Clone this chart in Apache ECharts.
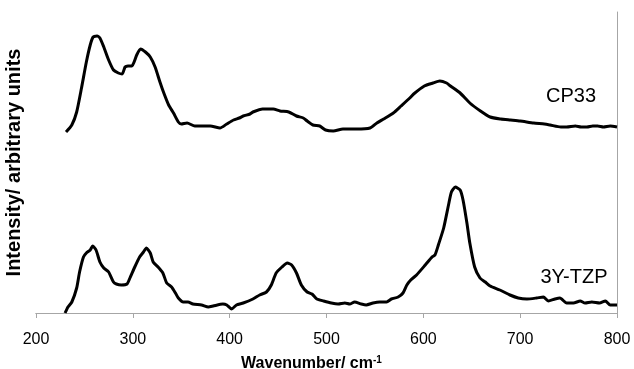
<!DOCTYPE html>
<html>
<head>
<meta charset="utf-8">
<script src="https://cdn.jsdelivr.net/npm/echarts@6/dist/echarts.min.js"></script>
<style>
  html, body { margin: 0; padding: 0; background: #fff; }
  #main { width: 634px; height: 369px; }
</style>
</head>
<body>
<div id="main"></div>
<script>
// spectra (intensity in arbitrary units)
var cp33Wavenumber = [231, 237, 242, 247, 252, 256, 259, 263, 266, 270, 275, 280, 285, 289, 292, 295, 299, 304, 308, 313,
  318, 323, 328, 332, 337, 342, 347, 350, 356, 364, 372, 380, 390, 397, 404, 410, 414, 421, 424, 434,
  445, 452, 461, 469, 476, 480, 486, 493, 499, 507, 517, 531, 545, 552, 559, 569, 577, 586, 590, 601,
  610, 617, 624, 628, 638, 648, 659, 669, 680, 690, 700, 714, 725, 731, 742, 748, 757, 763, 769, 775,
  780, 786, 793, 800];
var cp33Intensity = [181, 188, 201, 225, 251, 268, 276, 277, 275, 266, 253, 243, 240, 239, 246, 247, 247, 258, 264, 261,
  256, 246, 231, 220, 208, 200, 191, 189, 190, 187, 187, 187, 185, 189, 193, 195, 197, 199, 201, 204,
  204, 202, 201, 197, 195, 192, 188, 187, 183, 182, 184, 184, 185, 190, 194, 200, 207, 215, 219, 227,
  230, 232, 230, 227, 220, 210, 202, 196, 194, 193, 192, 190, 189, 188, 186, 186, 187, 186, 186, 187,
  187, 186, 187, 186];

var tzpWavenumber = [230, 233, 237, 242, 245, 249, 252, 256, 258.5, 262, 266, 270, 275, 280, 283, 288, 294, 297, 302, 307,
  311, 314, 318, 321, 326, 331, 335, 340, 344, 347, 352, 357, 362, 371, 378, 383, 393, 397, 402, 407,
  414, 424, 431, 438, 443, 448, 454, 459.5, 464, 469, 474, 480, 485, 490, 497, 505, 512, 519, 524, 529,
  536, 541, 548, 555, 562, 567, 574, 579, 583, 587, 593, 602, 609, 612, 615.5, 621, 626, 629, 633, 638,
  641, 645, 648, 653, 658.5, 664, 669, 679, 689.5, 698, 707, 717, 724, 729, 736, 741, 748, 755, 762, 767,
  774, 782, 788, 793, 800];
var tzpIntensity = [0, 6, 11, 25, 41, 56, 60, 63, 67, 63, 51, 45, 41, 31, 29, 28, 29, 35, 46, 56,
  61, 65, 60, 51, 46, 40, 30, 26, 20, 15, 11, 11, 9, 8, 6, 7, 9, 8, 4, 8,
  10, 14, 18, 21, 28, 40, 46, 50, 48, 40, 28, 21, 19, 14, 12, 10, 9, 10, 9, 11,
  9, 8, 10, 11, 11, 14, 16, 20, 28, 33, 38, 48, 56, 58, 68, 85, 108, 121, 126, 123,
  113, 90, 70, 46, 35, 31, 27, 23, 18, 15, 14, 15, 16, 12, 14, 15, 10, 10, 12, 10,
  11, 10, 12, 8, 8];

var xTicks = [200, 300, 400, 500, 600, 700, 800];

function pairs(xs, ys) {
  return xs.map(function (x, i) { return [x, ys[i]]; });
}

var font = '"Liberation Sans", Arial, sans-serif';
var frameColor = '#a6a6a6';

var chart = echarts.init(document.getElementById('main'), null, { renderer: 'canvas' });

var option = {
  animation: false,
  backgroundColor: '#fff',
  grid: { left: 36, right: 17, top: 12, bottom: 56, containLabel: false, outerBoundsMode: 'none' },
  xAxis: [
    {
      type: 'value',
      min: xTicks[0],
      max: xTicks[xTicks.length - 1],
      interval: 100,
      axisLine: { show: true, lineStyle: { color: frameColor, width: 1 } },
      axisTick: { show: true, length: 5, lineStyle: { color: frameColor } },
      splitLine: { show: false },
      axisLabel: { color: '#000', fontFamily: font, fontSize: 16, margin: 19 },
      name: 'Wavenumber/ cm{sup|-1}',
      nameLocation: 'middle',
      nameGap: 42,
      nameTextStyle: {
        color: '#000', fontFamily: font, fontSize: 16, fontWeight: 'bold',
        padding: [0, 30, 0, 0],
        rich: { sup: { fontSize: 10, fontWeight: 'bold', fontFamily: font, color: '#000', verticalAlign: 'top', padding: [0, 0, 8, 0] } }
      }
    },
    {
      type: 'value',
      position: 'top',
      min: xTicks[0],
      max: xTicks[xTicks.length - 1],
      axisLine: { show: true, lineStyle: { color: frameColor, width: 1 } },
      axisTick: { show: false },
      axisLabel: { show: false },
      splitLine: { show: false }
    }
  ],
  yAxis: [
    {
      type: 'value',
      min: 0,
      max: 301,
      axisLine: { show: false },
      axisTick: { show: false },
      axisLabel: { show: false },
      splitLine: { show: false },
      name: 'Intensity/ arbitrary units',
      nameLocation: 'middle',
      nameRotate: 90,
      nameGap: 12,
      nameTextStyle: { color: '#000', fontFamily: font, fontSize: 20, fontWeight: 'bold' }
    },
    {
      type: 'value',
      position: 'right',
      min: 0,
      max: 301,
      axisLine: { show: true, lineStyle: { color: frameColor, width: 1 } },
      axisTick: { show: false },
      axisLabel: { show: false },
      splitLine: { show: false }
    }
  ],
  series: [
    {
      name: 'CP33',
      type: 'line',
      data: pairs(cp33Wavenumber, cp33Intensity),
      showSymbol: false,
      smooth: 0.2,
      lineStyle: { color: '#000', width: 3 }
    },
    {
      name: '3Y-TZP',
      type: 'line',
      data: pairs(tzpWavenumber, tzpIntensity),
      showSymbol: false,
      smooth: 0.2,
      lineStyle: { color: '#000', width: 3 }
    }
  ],
  graphic: [
    { type: 'text', x: 571, y: 96, style: { text: 'CP33', fill: '#000', font: '20px ' + font, textAlign: 'center', textVerticalAlign: 'middle' } },
    { type: 'text', x: 574, y: 277, style: { text: '3Y-TZP', fill: '#000', font: '20px ' + font, textAlign: 'center', textVerticalAlign: 'middle' } }
  ]
};

chart.setOption(option);
</script>
</body>
</html>
